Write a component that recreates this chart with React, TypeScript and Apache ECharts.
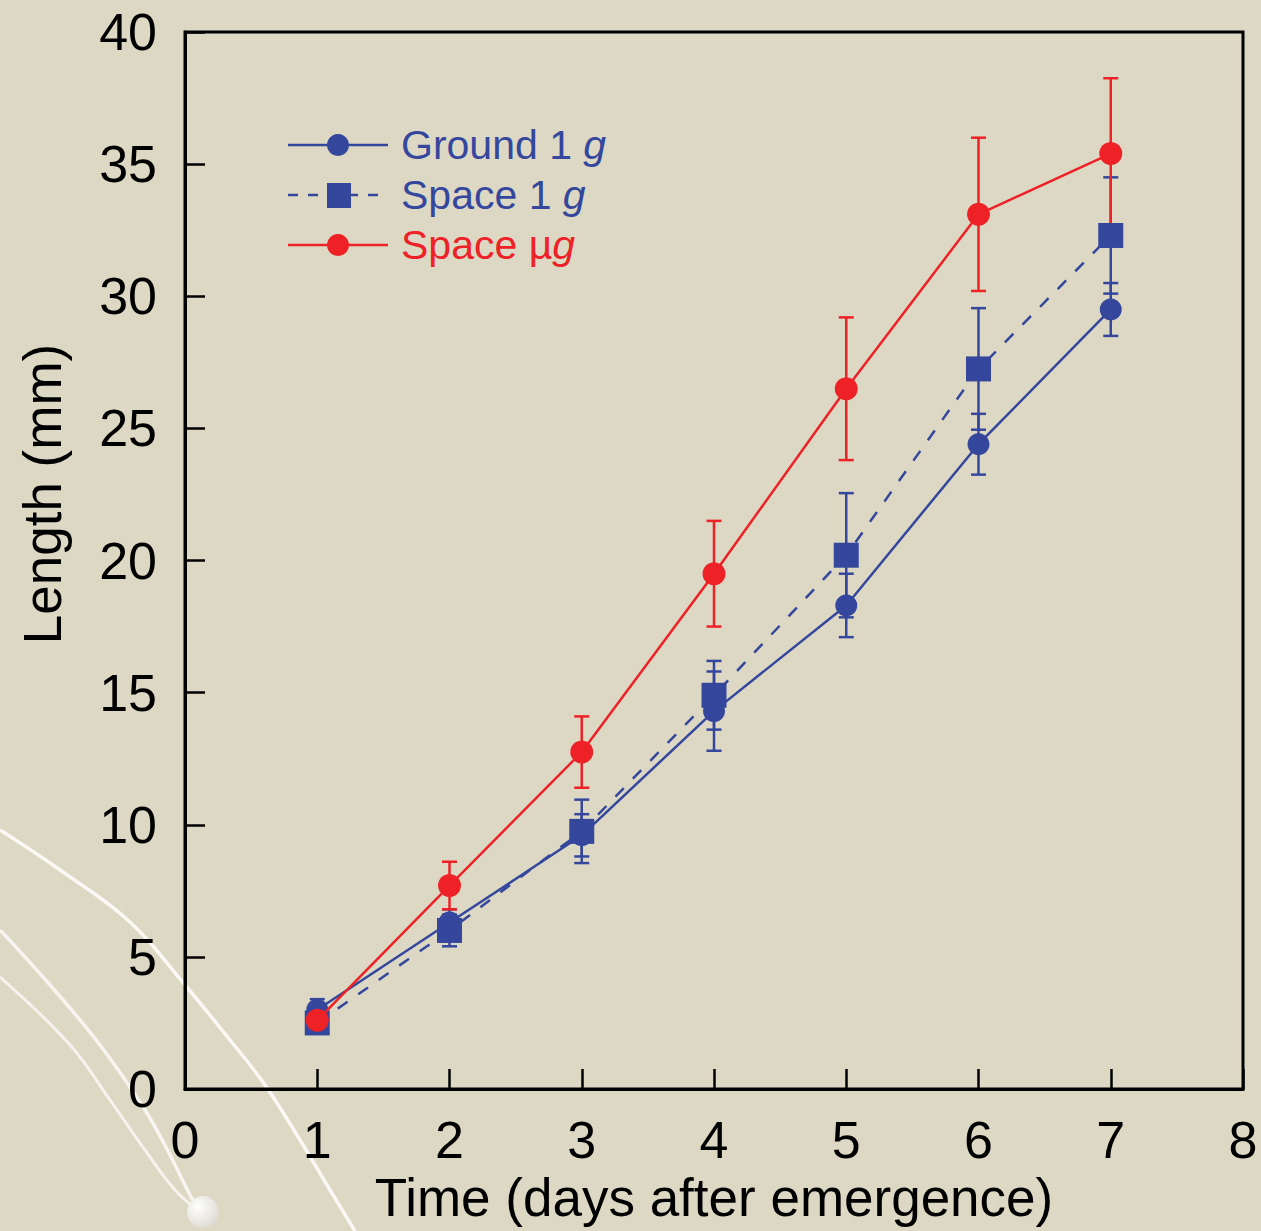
import React, { useEffect, useRef } from "react";
import * as echarts from "echarts";

const days = [1, 2, 3, 4, 5, 6, 7];
const groundMean = [3.0, 6.3, 9.6, 14.3, 18.3, 24.4, 29.5];
const groundErr = [0.4, 0.5, 0.8, 1.5, 1.2, 1.15, 1.0];
const space1gMean = [2.5, 6.0, 9.75, 14.9, 20.2, 27.25, 32.3];
const space1gErr = [0.4, 0.6, 1.2, 1.3, 2.35, 2.3, 2.2];
const spaceMuMean = [2.6, 7.7, 12.75, 19.5, 26.5, 33.1, 35.4];
const spaceMuErr = [0.3, 0.9, 1.35, 2.0, 2.7, 2.9, 2.85];

const xTicks = [0, 1, 2, 3, 4, 5, 6, 7, 8];
const yTicks = [0, 5, 10, 15, 20, 25, 30, 35, 40];

const BLUE = "#34479d";
const RED = "#ee2126";
const BG = "#ddd8c4";
const FONT = "'Liberation Sans', Arial, sans-serif";

function errSeries(name: string, means: number[], errs: number[], color: string) {
  return {
    type: "custom",
    name: name + "-err",
    z: 2,
    data: days.map((d, i) => [d, means[i], errs[i]]),
    encode: { x: 0, y: 1 },
    renderItem: (params: any, api: any) => {
      const x = api.value(0);
      const m = api.value(1);
      const e = api.value(2);
      const top = api.coord([x, m + e]);
      const bot = api.coord([x, m - e]);
      const hw = 7.5;
      const st = { stroke: color, lineWidth: 2.5 };
      return {
        type: "group",
        children: [
          { type: "line", shape: { x1: top[0], y1: top[1], x2: bot[0], y2: bot[1] }, style: st },
          { type: "line", shape: { x1: top[0] - hw, y1: top[1], x2: top[0] + hw, y2: top[1] }, style: st },
          { type: "line", shape: { x1: bot[0] - hw, y1: bot[1], x2: bot[0] + hw, y2: bot[1] }, style: st },
        ],
      };
    },
  };
}

function legendItem(y: number, color: string, dashed: boolean, symbol: string, label: string, italic: string, z: number) {
  const children: any[] = [
    {
      type: "line",
      shape: { x1: 288, y1: y, x2: 388, y2: y },
      style: { stroke: color, lineWidth: 2.5, lineDash: dashed ? [10, 10] : null },
    },
  ];
  if (symbol === "circle") {
    children.push({ type: "circle", shape: { cx: 338, cy: y, r: 11 }, style: { fill: color } });
  } else {
    children.push({ type: "rect", shape: { x: 327, y: y - 12, width: 24, height: 25 }, style: { fill: color } });
  }
  children.push({
    type: "text",
    x: 401,
    y: y,
    style: {
      text: label + "{i|" + italic + "}",
      fill: color,
      font: "41px " + FONT,
      verticalAlign: "middle",
      rich: { i: { fontStyle: "italic", fontSize: 41, fontFamily: FONT, fill: color } },
    },
  });
  return { type: "group", z, children };
}

export default function App() {
  const ref = useRef<HTMLDivElement>(null);
  useEffect(() => {
    document.body.style.margin = "0";
    document.body.style.background = BG;
    const chart = echarts.init(ref.current!, null, { renderer: "svg" });
    const curveStyle = (a: number, w: number) => ({ stroke: "rgba(255,255,255," + a + ")", lineWidth: w, fill: null });
    chart.setOption({
      animation: false,
      backgroundColor: BG,
      grid: { left: 185, right: 18, top: 32, bottom: 142, show: true, borderColor: "#000", borderWidth: 3 },
      xAxis: {
        type: "value",
        min: 0,
        max: 8,
        interval: 1,
        name: "Time (days after emergence)",
        nameLocation: "middle",
        nameGap: 79,
        nameTextStyle: { fontSize: 53, color: "#000", fontFamily: FONT },
        axisLine: { lineStyle: { color: "#000", width: 3 } },
        axisTick: { inside: true, length: 20, lineStyle: { color: "#000", width: 2.5 } },
        axisLabel: { fontSize: 52, color: "#000", fontFamily: FONT, margin: 25, formatter: (v: number) => (xTicks.includes(v) ? String(v) : "") },
        splitLine: { show: false },
      },
      yAxis: {
        type: "value",
        min: 0,
        max: 40,
        interval: 5,
        axisLine: { lineStyle: { color: "#000", width: 3 } },
        axisTick: { inside: true, length: 20, lineStyle: { color: "#000", width: 2.5 } },
        axisLabel: { fontSize: 52, color: "#000", fontFamily: FONT, margin: 28, formatter: (v: number) => (yTicks.includes(v) ? String(v) : "") },
        splitLine: { show: false },
      },
      graphic: [
        { type: "polyline", z: -10, silent: true, shape: { points: [[0, 830], [60, 870], [130, 922], [185, 985], [230, 1040], [265, 1085], [300, 1140], [330, 1190], [355, 1231]], smooth: 0.4 }, style: curveStyle(0.85, 3.5) },
        { type: "polyline", z: -10, silent: true, shape: { points: [[0, 930], [50, 985], [100, 1045], [145, 1110], [170, 1155], [190, 1195], [200, 1212]], smooth: 0.4 }, style: curveStyle(0.75, 3.5) },
        { type: "polyline", z: -10, silent: true, shape: { points: [[0, 977], [70, 1045], [110, 1100], [145, 1150], [175, 1190], [200, 1212]], smooth: 0.4 }, style: curveStyle(0.7, 3) },
        {
          type: "circle",
          z: -9,
          silent: true,
          shape: { cx: 203, cy: 1212, r: 16 },
          style: {
            fill: new echarts.graphic.RadialGradient(0.35, 0.35, 0.8, [
              { offset: 0, color: "#ffffff" },
              { offset: 1, color: "#d9d6cc" },
            ]),
          },
        },
        {
          type: "text",
          x: 42,
          y: 494,
          rotation: Math.PI / 2,
          style: {
            text: "Length (mm)",
            fill: "#000",
            font: "53px " + FONT,
            textAlign: "center",
            verticalAlign: "middle",
          },
        },
        legendItem(145, BLUE, false, "circle", "Ground 1 ", "g", 20),
        legendItem(195, BLUE, true, "rect", "Space 1 ", "g", 20),
        legendItem(245, RED, false, "circle", "Space µ", "g", 20),
      ],
      series: [
        errSeries("Ground 1 g", groundMean, groundErr, BLUE),
        errSeries("Space 1 g", space1gMean, space1gErr, BLUE),
        errSeries("Space µg", spaceMuMean, spaceMuErr, RED),
        {
          type: "line",
          name: "Ground 1 g",
          z: 3,
          data: days.map((d, i) => [d, groundMean[i]]),
          symbol: "circle",
          symbolSize: 22,
          itemStyle: { color: BLUE },
          lineStyle: { color: BLUE, width: 2.5 },
        },
        {
          type: "line",
          name: "Space 1 g",
          z: 3,
          data: days.map((d, i) => [d, space1gMean[i]]),
          symbol: "rect",
          symbolSize: 25,
          itemStyle: { color: BLUE },
          lineStyle: { color: BLUE, width: 2.5, type: [12, 13] },
        },
        {
          type: "line",
          name: "Space µg",
          z: 4,
          data: days.map((d, i) => [d, spaceMuMean[i]]),
          symbol: "circle",
          symbolSize: 23,
          itemStyle: { color: RED },
          lineStyle: { color: RED, width: 2.5 },
        },
      ],
    });
    return () => chart.dispose();
  }, []);
  return <div ref={ref} style={{ width: 1261, height: 1231 }} />;
}
